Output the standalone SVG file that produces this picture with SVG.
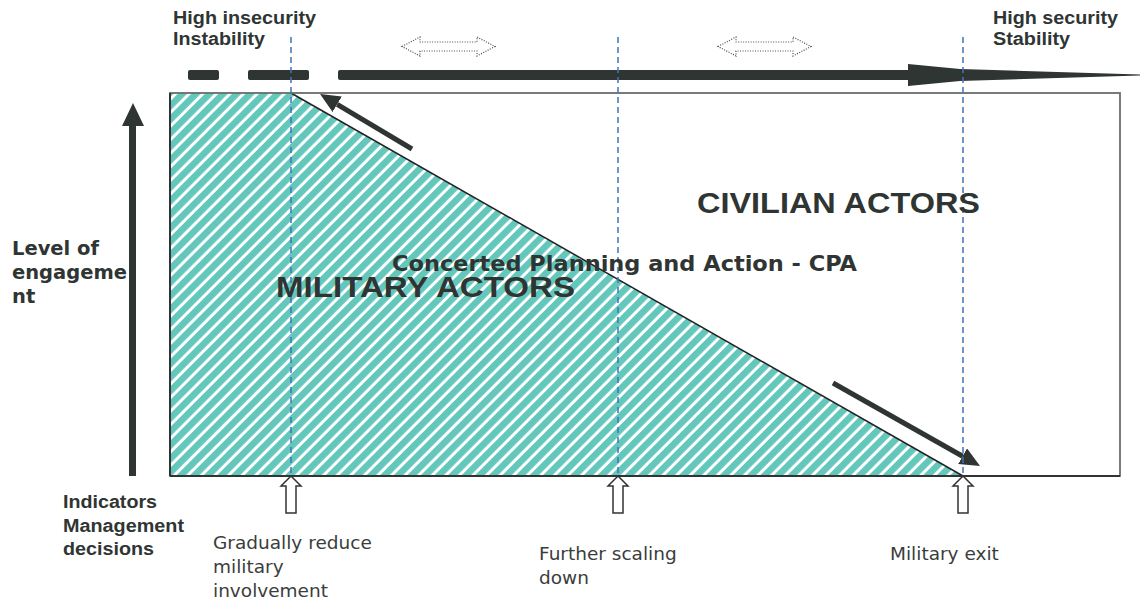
<svg xmlns="http://www.w3.org/2000/svg" xmlns:xlink="http://www.w3.org/1999/xlink" width="1140" height="602" viewBox="0 0 1140 602">
<style>
.dark{fill:#2f3533}
.lbl{font-family:"Liberation Sans",Arial,sans-serif;font-weight:bold;fill:#2f3533}
.ver{font-family:"DejaVu Sans",Verdana,sans-serif;font-weight:bold;fill:#2f3533}
.note{font-family:"DejaVu Sans",Verdana,sans-serif;font-size:18.5px;fill:#3a3d3c}
.guide{stroke:#3f74bd;stroke-width:1.5;stroke-dasharray:6 4;fill:none}
.dotted{fill:none;stroke:#4a4a4a;stroke-width:1.2;stroke-dasharray:1 1.5}
.thick{stroke:#2f3533;stroke-width:5;fill:none}
.hollow{fill:#fff;stroke:#333;stroke-width:1.5;stroke-linejoin:miter}
</style>
<defs>
<pattern id="hatch" patternUnits="userSpaceOnUse" width="9.6" height="9.6" patternTransform="rotate(45)">
<rect width="9.6" height="9.6" fill="#fff"/>
<rect width="6.6" height="9.6" fill="#64c7bc"/>
</pattern>
<marker id="head" viewBox="0 -9 20 18" refX="0" refY="0" markerWidth="20" markerHeight="18" markerUnits="userSpaceOnUse" orient="auto">
<path d="M0,-9 L20,0 L0,9 Z" fill="#2f3533"/>
</marker>
<path id="hup" d="M0,0 L10,10 L5,10 L5,37 L-5,37 L-5,10 L-10,10 Z" class="hollow"/>
<path id="dbl" d="M0,0 L18,-9.5 L18,-4.5 L75,-4.5 L75,-9.5 L93,0 L75,9.5 L75,4.5 L18,4.5 L18,9.5 Z" class="dotted"/>
</defs>

<g id="military-area">
<polygon points="170,93 291,93 963,476 170,476" fill="url(#hatch)"/>
<line x1="291" y1="93" x2="963" y2="476" stroke="#222" stroke-width="1.5"/>
</g>

<g id="frame">
<rect x="170" y="93" width="950" height="383" fill="none" stroke="#6a6d6c" stroke-width="1.8"/>
<line x1="170" y1="476" x2="1120" y2="476" stroke="#333" stroke-width="2"/>
<line x1="170" y1="93" x2="170" y2="476" stroke="#333" stroke-width="2"/>
</g>

<g id="security-axis">
<rect x="188" y="70" width="31" height="10" rx="2" class="dark"/>
<rect x="248" y="70" width="61" height="10" rx="2" class="dark"/>
<rect x="338" y="70" width="572" height="10" rx="2" class="dark"/>
<polygon points="908,64 960,69 1140,74.5 1140,75.5 960,81 908,86" class="dark"/>
</g>

<g id="transition-arrows">
<use xlink:href="#dbl" x="402" y="46.5"/>
<use xlink:href="#dbl" x="718" y="46.5"/>
</g>

<g id="engagement-axis">
<rect x="129" y="122" width="7" height="354" class="dark"/>
<polygon points="133,103 144,126 122,126" class="dark"/>
</g>

<g id="connectors">
<line x1="412" y1="149" x2="337.2" y2="104.3" class="thick" marker-end="url(#head)"/>
<line x1="833" y1="383" x2="962.6" y2="456.2" class="thick" marker-end="url(#head)"/>
</g>

<g id="guides">
<line x1="291" y1="37" x2="291" y2="476" class="guide"/>
<line x1="618" y1="37" x2="618" y2="476" class="guide"/>
<line x1="963" y1="37" x2="963" y2="476" class="guide"/>
</g>

<g id="milestones">
<use xlink:href="#hup" x="291" y="476"/>
<use xlink:href="#hup" x="618" y="476"/>
<use xlink:href="#hup" x="963" y="476"/>
</g>

<g id="label-insecurity">
<text class="lbl" font-size="18" x="173" y="24" textLength="143" lengthAdjust="spacingAndGlyphs">High insecurity</text>
<text class="lbl" font-size="18" x="173" y="45" textLength="92" lengthAdjust="spacingAndGlyphs">Instability</text>
</g>
<g id="label-security">
<text class="lbl" font-size="18" x="993" y="24" textLength="125" lengthAdjust="spacingAndGlyphs">High security</text>
<text class="lbl" font-size="18" x="993" y="45" textLength="77" lengthAdjust="spacingAndGlyphs">Stability</text>
</g>
<g id="label-engagement">
<text class="ver" font-size="19.5" x="12" y="255">Level of</text>
<text class="ver" font-size="19.5" x="12" y="279">engageme</text>
<text class="ver" font-size="19.5" x="12" y="303">nt</text>
</g>
<g id="label-indicators">
<text class="lbl" font-size="18" x="63" y="508" textLength="94" lengthAdjust="spacingAndGlyphs">Indicators</text>
<text class="lbl" font-size="18" x="63" y="532" textLength="121" lengthAdjust="spacingAndGlyphs">Management</text>
<text class="lbl" font-size="18" x="63" y="555" textLength="91" lengthAdjust="spacingAndGlyphs">decisions</text>
</g>
<g id="label-civilian">
<text class="lbl" font-size="29" x="697" y="213" textLength="283" lengthAdjust="spacingAndGlyphs">CIVILIAN ACTORS</text>
</g>
<g id="label-military">
<text class="lbl" font-size="30" x="276" y="297" textLength="299" lengthAdjust="spacingAndGlyphs">MILITARY ACTORS</text>
</g>
<g id="label-cpa">
<text class="ver" font-size="21" x="392" y="271" textLength="465" lengthAdjust="spacingAndGlyphs">Concerted Planning and Action - CPA</text>
</g>
<g id="label-reduce">
<text class="note" x="213" y="549">Gradually reduce</text>
<text class="note" x="213" y="573">military</text>
<text class="note" x="213" y="597">involvement</text>
</g>
<g id="label-scaling">
<text class="note" x="539" y="560">Further scaling</text>
<text class="note" x="539" y="584">down</text>
</g>
<g id="label-exit">
<text class="note" x="890" y="560">Military exit</text>
</g>
</svg>
